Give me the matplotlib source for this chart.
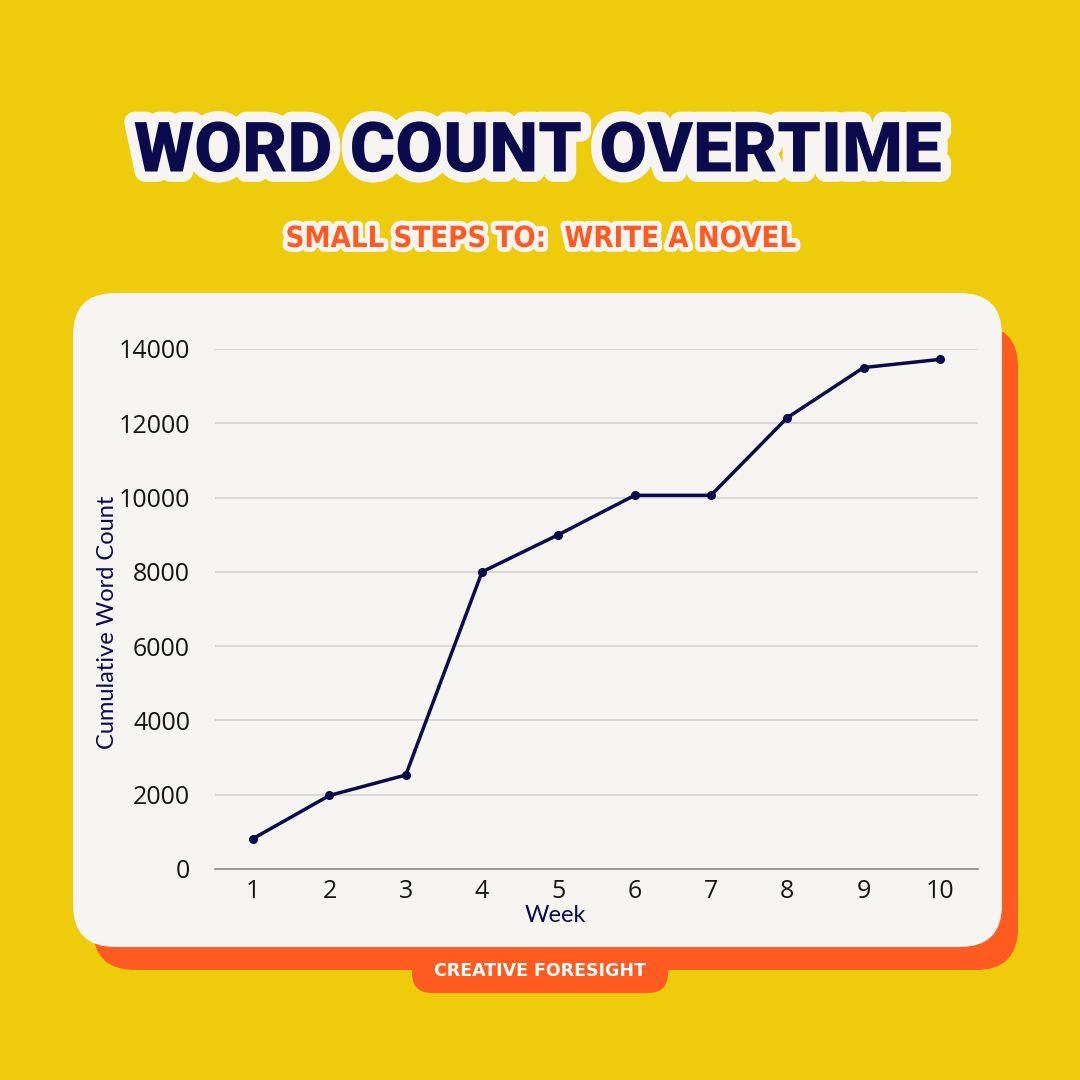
import matplotlib
matplotlib.use("Agg")
import matplotlib.pyplot as plt
import matplotlib.patheffects as pe
from matplotlib.patches import FancyBboxPatch

# data
weeks = [1, 2, 3, 4, 5, 6, 7, 8, 9, 10]
word_count = [820, 1980, 2530, 8000, 9000, 10060, 10060, 12150, 13500, 13720]
y_ticks = [0, 2000, 4000, 6000, 8000, 10000, 12000, 14000]

YELLOW = "#EECB0B"
ORANGE = "#FF5A1F"
CARD = "#F6F5F2"
NAVY = "#0B0A4C"

fig = plt.figure(figsize=(10.8, 10.8), dpi=100)
fig.patch.set_facecolor(YELLOW)

# background layer in pixel coordinates
bg = fig.add_axes([0, 0, 1, 1])
bg.set_xlim(0, 1080)
bg.set_ylim(1080, 0)
bg.axis("off")


def rounded(x0, y0, x1, y1, r, color, z):
    p = FancyBboxPatch((x0 + r, y0 + r), (x1 - x0) - 2 * r, (y1 - y0) - 2 * r,
                       boxstyle=f"round,pad={r}", fc=color, ec="none", zorder=z)
    bg.add_patch(p)


rounded(93, 325, 1018, 970, 42, ORANGE, 1)
rounded(412, 925, 668, 993, 20, ORANGE, 1)
rounded(73, 293, 1002, 947, 42, CARD, 2)

bg.text(540, 971, "CREATIVE FORESIGHT", color="white", fontsize=12.5,
        fontweight="bold", family="DejaVu Sans", ha="center", va="center", zorder=3)

outline_title = [pe.withStroke(linewidth=15, foreground=CARD)]
bg.text(538, 153, "WORD COUNT OVERTIME", color=NAVY, fontsize=50,
        fontweight="black", family="Roboto", ha="center", va="center",
        path_effects=outline_title, zorder=3)

outline_sub = [pe.withStroke(linewidth=7, foreground=CARD)]
bg.text(540, 239, "SMALL STEPS TO:  WRITE A NOVEL", color=ORANGE, fontsize=21,
        fontweight="bold", family="DejaVu Sans", fontstretch="condensed",
        ha="center", va="center", path_effects=outline_sub, zorder=3)

# chart
ax = fig.add_axes([215 / 1080, 1 - 869 / 1080, (978 - 215) / 1080, (869 - 349) / 1080])
ax.set_facecolor("none")
ax.plot(weeks, word_count, color=NAVY, lw=2.5, marker="o", ms=5.5, clip_on=False, zorder=3)
ax.set_xlim(0.5, 10.5)
ax.set_ylim(0, 14000)
ax.set_xticks(weeks)
ax.set_yticks(y_ticks)
ax.grid(axis="y", color="#D3D3D3", lw=1.2)
ax.set_axisbelow(True)
for s in ["top", "right", "left"]:
    ax.spines[s].set_visible(False)
ax.spines["bottom"].set_color("#8A8A8A")
ax.spines["bottom"].set_linewidth(1.2)
ax.tick_params(length=0, labelsize=18, labelcolor="#151515")
for lab in ax.get_xticklabels() + ax.get_yticklabels():
    lab.set_family("Open Sans")
ax.tick_params(axis="x", pad=7)
ax.tick_params(axis="y", pad=18)

bg.text(555, 915, "Week", color=NAVY, fontsize=17, family="Lato",
        ha="center", va="center", zorder=3)
bg.text(108, 622, "Cumulative Word Count", color=NAVY, fontsize=17, family="Lato",
        rotation=90, ha="center", va="center", zorder=3)

fig.savefig("out.png", dpi=100, facecolor=YELLOW)
